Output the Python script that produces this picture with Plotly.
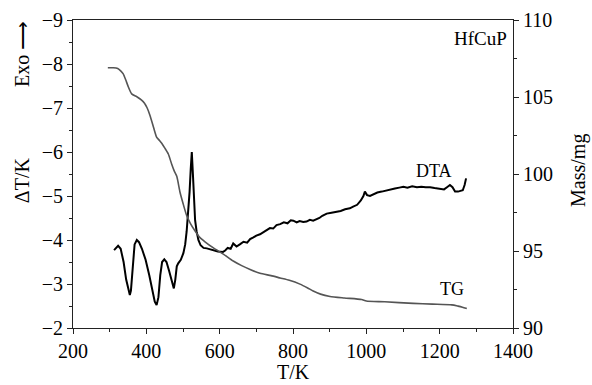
import plotly.graph_objects as go

# DTA curve (left axis, ΔT/K)
dta_T = [312, 318, 323, 330, 338, 345, 352, 355, 358, 363, 368, 374, 380, 388, 398, 408, 416, 423, 428, 433,
         438, 443, 449, 455, 462, 468, 475, 479, 483, 487, 494, 501, 506, 510, 514, 518, 521, 524, 527, 530,
         533, 537, 542, 548, 556, 565, 580, 595, 609, 615, 622, 630, 637, 646, 655, 665, 675, 683, 692, 700,
         710, 720, 730, 737, 746, 755, 765, 775, 785, 794, 801, 810, 818, 828, 837, 846, 855, 864, 872, 880,
         892, 905, 919, 930, 942, 955, 964, 975, 985, 992, 996, 1002, 1010, 1020, 1030, 1042, 1055, 1065, 1078,
         1090, 1101, 1112, 1125, 1138, 1150, 1162, 1174, 1186, 1197, 1205, 1212, 1220, 1228, 1235, 1242, 1250,
         1257, 1263, 1268, 1272]
dta_dT = [-3.77, -3.83, -3.87, -3.80, -3.50, -3.10, -2.80, -2.75, -2.85, -3.50, -3.90, -4.00, -3.95, -3.80, -3.55,
          -3.20, -2.85, -2.60, -2.52, -2.70, -3.20, -3.50, -3.56, -3.50, -3.30, -3.10, -2.90, -3.10, -3.40, -3.47,
          -3.55, -3.70, -3.90, -4.20, -4.60, -5.10, -5.60, -6.00, -5.50, -4.90, -4.45, -4.20, -4.00, -3.88, -3.82,
          -3.81, -3.77, -3.74, -3.73, -3.76, -3.82, -3.80, -3.92, -3.85, -3.90, -3.96, -3.94, -4.02, -4.06, -4.10,
          -4.13, -4.18, -4.22, -4.27, -4.26, -4.34, -4.36, -4.40, -4.38, -4.45, -4.44, -4.40, -4.43, -4.41, -4.42,
          -4.46, -4.44, -4.47, -4.50, -4.55, -4.60, -4.62, -4.64, -4.66, -4.70, -4.72, -4.76, -4.80, -4.90, -5.00,
          -5.10, -5.02, -5.00, -5.05, -5.08, -5.10, -5.13, -5.15, -5.17, -5.19, -5.21, -5.19, -5.22, -5.20, -5.21,
          -5.20, -5.20, -5.18, -5.17, -5.15, -5.15, -5.20, -5.25, -5.20, -5.10, -5.10, -5.12, -5.13, -5.25, -5.40]

# TG curve (right axis, Mass/mg)
tg_T = [295, 310, 322, 330, 337, 344, 351, 360, 375, 387, 395, 402, 410, 420, 428, 435, 442, 450, 460, 469,
        476, 483, 492, 500, 510, 520, 533, 545, 560, 583, 610, 637, 660, 683, 710, 740, 765, 790, 819, 840,
        855, 875, 901, 940, 987, 1000, 1050, 1128, 1180, 1233, 1250, 1262, 1274]
tg_mass = [106.9, 106.9, 106.85, 106.7, 106.5, 106.1, 105.65, 105.2, 105.0, 104.8, 104.6, 104.3, 103.8, 103.0,
           102.4, 102.2, 102.0, 101.7, 101.3, 100.65, 100.2, 99.85, 98.8, 98.1, 97.3, 96.8, 96.3, 95.9, 95.6,
           95.2, 94.8, 94.35, 94.05, 93.8, 93.55, 93.4, 93.25, 93.1, 92.85, 92.6, 92.4, 92.2, 92.05, 91.95,
           91.85, 91.75, 91.7, 91.6, 91.55, 91.5, 91.42, 91.35, 91.26]

FONT = "Liberation Serif"
TXT = dict(family=FONT, size=20, color="#000")

fig = go.Figure()
fig.add_trace(go.Scatter(x=tg_T, y=tg_mass, yaxis="y2", mode="lines",
                         line=dict(color="#555555", width=1.6, shape="spline", smoothing=0.6),
                         showlegend=False))
fig.add_trace(go.Scatter(x=dta_T, y=dta_dT, mode="lines",
                         line=dict(color="#000000", width=2),
                         showlegend=False))

axis_common = dict(showline=True, linecolor="#222222", linewidth=1, ticks="outside",
                   ticklen=5, tickwidth=1, tickcolor="#222222", showgrid=False, zeroline=False,
                   automargin=False, tickfont=dict(family=FONT, size=20, color="#000000"))

fig.update_layout(
    width=592, height=385,
    margin=dict(l=73, r=79, t=20, b=57, autoexpand=False),
    paper_bgcolor="white", plot_bgcolor="white",
    xaxis=dict(range=[200, 1400], dtick=200, mirror=True,
               minor=dict(dtick=100, ticks="outside", ticklen=3, tickcolor="#222222"),
               **axis_common),
    yaxis=dict(range=[-2, -9], dtick=1,
               minor=dict(dtick=0.5, ticks="outside", ticklen=3, tickcolor="#222222"),
               **axis_common),
    yaxis2=dict(range=[90, 110], dtick=5, overlaying="y", side="right",
                minor=dict(dtick=2.5, ticks="outside", ticklen=3, tickcolor="#222222"),
                **axis_common),
    annotations=[
        dict(text="T/K", x=0.5, y=0, xref="paper", yref="paper", showarrow=False,
             xanchor="center", yanchor="middle", yshift=-44, font=TXT),
        dict(text="ΔT/K", x=0, y=0.48, xref="paper", yref="paper", showarrow=False,
             textangle=-90, xanchor="center", yanchor="middle", xshift=-51, font=TXT),
        dict(text="Exo ⟶", x=0, y=0.89, xref="paper", yref="paper", showarrow=False,
             textangle=-90, xanchor="center", yanchor="middle", xshift=-51, font=TXT),
        dict(text="Mass/mg", x=1, y=0.51, xref="paper", yref="paper", showarrow=False,
             textangle=-90, xanchor="center", yanchor="middle", xshift=66, font=TXT),
        dict(text="HfCuP", x=1310, y=-8.59, xref="x", yref="y", showarrow=False,
             xanchor="center", yanchor="middle", font=dict(family=FONT, size=19, color="#000")),
        dict(text="DTA", x=1185, y=-5.57, xref="x", yref="y", showarrow=False,
             xanchor="center", yanchor="middle", font=dict(family=FONT, size=18, color="#000")),
        dict(text="TG", x=1233, y=-2.89, xref="x", yref="y", showarrow=False,
             xanchor="center", yanchor="middle", font=dict(family=FONT, size=18, color="#000")),
    ],
)

fig.write_html("out.html")
